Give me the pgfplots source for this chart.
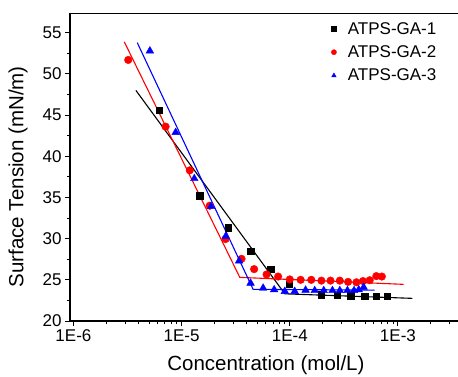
\documentclass[border=0pt]{standalone}
\usepackage{fontspec}
\setmainfont{Liberation Sans}
\usepackage{pgfplots}
\pgfplotsset{compat=1.18}
\begin{document}
\begin{tikzpicture}
\begin{axis}[
  at={(0pt,0pt)}, anchor=south west,
  scale only axis, width=388pt, height=308pt,
  xmode=log,
  xmin=9.29e-7, xmax=3.59e-3,
  ymin=20, ymax=57.4,
  axis x line*=bottom, axis y line*=left,
  axis line style={line width=1.3pt},
  xtick={1e-6,1e-5,1e-4,1e-3},
  xticklabels={1E-6,1E-5,1E-4,1E-3},
  minor xtick={2e-6,3e-6,4e-6,5e-6,6e-6,7e-6,8e-6,9e-6,2e-5,3e-5,4e-5,5e-5,6e-5,7e-5,8e-5,9e-5,2e-4,3e-4,4e-4,5e-4,6e-4,7e-4,8e-4,9e-4,2e-3,3e-3},
  ytick={20,25,...,55},
  minor y tick num=1,
  tick align=outside,
  major tick length=5pt, minor tick length=3pt,
  every tick/.style={line width=1pt, black},
  /pgf/number format/assume math mode=true,
  tick label style={font=\fontsize{17}{18}\selectfont},
  xlabel={Concentration (mol/L)},
  ylabel={Surface Tension (mN/m)},
  label style={font=\fontsize{20.5}{22}\selectfont},
  xlabel style={at={(axis description cs:0.505,-0.162)}, anchor=base},
  ylabel style={at={(axis description cs:-0.134,0.468)}, anchor=center},
  legend style={draw=none, fill=none, font=\fontsize{17}{18}\selectfont,
    at={(0.65,0.984)}, anchor=north west, row sep=6pt},
  legend cell align=left,
  legend image code/.code={\path[draw=none,fill=none] (0cm,0cm) -- (0.72cm,0cm);
    \draw[#1, mark size=2.6pt] plot coordinates {(0.3cm,0cm)};},
]
\draw[line width=1.3pt] (rel axis cs:0,1) -- (rel axis cs:1,1);
% fit lines
\addplot[black, line width=1.1pt, forget plot] coordinates {(3.78e-6,48.0) (9.0e-5,23.3) (1.36e-3,22.75)};
\addplot[red, line width=1.1pt, forget plot] coordinates {(2.95e-6,53.9) (3.45e-5,25.3) (1.13e-3,24.45)};
\addplot[blue, line width=1.1pt, forget plot] coordinates {(3.89e-6,53.8) (4.58e-5,23.85) (6.1e-4,23.75)};
% data
\addplot[only marks, mark=square*, mark size=3.3pt, black, mark options={fill=black}] coordinates {
(6.2e-6,45.6) (1.47e-5,35.2) (2.69e-5,31.3) (4.37e-5,28.5) (6.64e-5,26.3) (9.86e-5,24.45)
(1.96e-4,23.2) (2.74e-4,23.15) (3.66e-4,23.05) (4.92e-4,23.0) (6.3e-4,23.0) (7.97e-4,23.0)};
\addlegendentry{ATPS-GA-1}
\addplot[only marks, mark=*, mark size=3.8pt, red, mark options={fill=red}] coordinates {
(3.21e-6,51.7) (7.11e-6,43.6) (1.19e-5,38.3) (1.82e-5,34.0) (2.55e-5,29.95) (3.58e-5,27.55)
(4.68e-5,26.3) (6.1e-5,25.65) (7.8e-5,25.4) (1.0e-4,25.05) (1.26e-4,25.0) (1.58e-4,25.0)
(1.96e-4,24.9) (2.38e-4,24.9) (2.9e-4,24.9) (3.46e-4,24.75) (4.13e-4,24.7) (4.75e-4,24.85)
(5.48e-4,24.95) (6.31e-4,25.45) (7.1e-4,25.4)};
\addlegendentry{ATPS-GA-2}
\addplot[only marks, mark=triangle*, mark size=4.4pt, blue, mark options={fill=blue}] coordinates {
(5.09e-6,52.8) (8.81e-6,42.9) (1.31e-5,37.3) (1.87e-5,33.9) (2.56e-5,30.3) (3.4e-5,27.3)
(4.34e-5,24.6) (5.67e-5,24.0) (7.17e-5,23.8) (9.0e-5,23.6) (1.11e-4,23.6) (1.4e-4,23.75)
(1.7e-4,23.7) (2.06e-4,23.7) (2.48e-4,23.7) (2.9e-4,23.7) (3.41e-4,23.7) (3.93e-4,23.7)
(4.34e-4,23.8) (4.82e-4,24.1)};
\addlegendentry{ATPS-GA-3}
\end{axis}
\pgfresetboundingbox
\useasboundingbox (-70pt,-55pt) rectangle (388pt,321pt);
\end{tikzpicture}
\end{document}
